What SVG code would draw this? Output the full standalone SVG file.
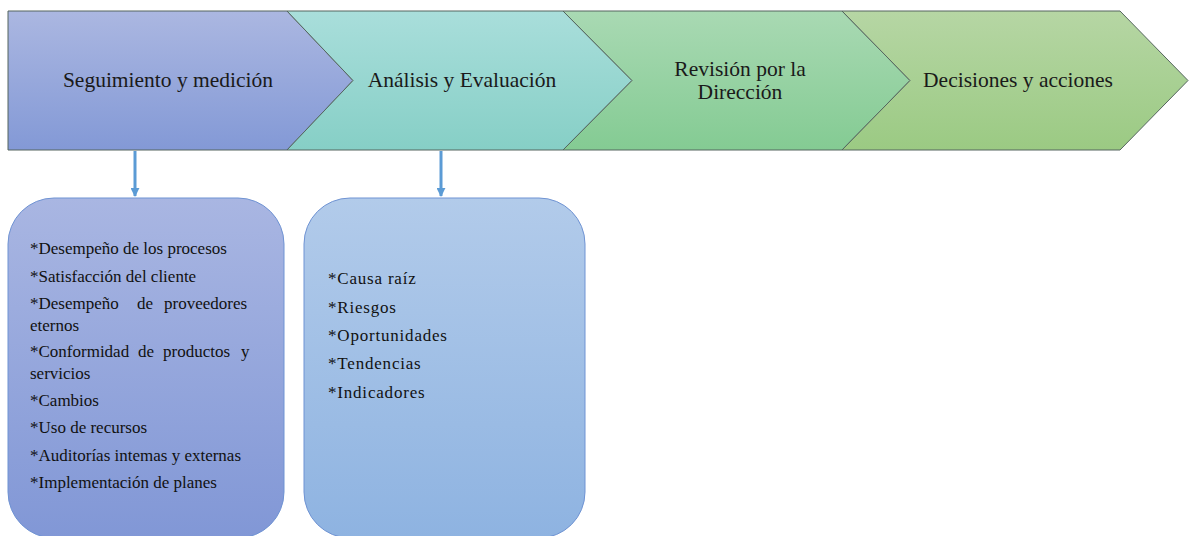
<svg xmlns="http://www.w3.org/2000/svg" width="1189" height="536" viewBox="0 0 1189 536">
  <defs>
    <linearGradient id="g1" x1="0" y1="0" x2="0" y2="1">
      <stop offset="0" stop-color="#abb7e1"/>
      <stop offset="1" stop-color="#8399d6"/>
    </linearGradient>
    <linearGradient id="g2" x1="0" y1="0" x2="0" y2="1">
      <stop offset="0" stop-color="#a9dedb"/>
      <stop offset="1" stop-color="#86cfc6"/>
    </linearGradient>
    <linearGradient id="g3" x1="0" y1="0" x2="0" y2="1">
      <stop offset="0" stop-color="#a9d9b3"/>
      <stop offset="1" stop-color="#84cb93"/>
    </linearGradient>
    <linearGradient id="g4" x1="0" y1="0" x2="0" y2="1">
      <stop offset="0" stop-color="#b6d6a4"/>
      <stop offset="1" stop-color="#9bca83"/>
    </linearGradient>
    <linearGradient id="gb1" x1="0" y1="0" x2="0" y2="1">
      <stop offset="0" stop-color="#a9b6e2"/>
      <stop offset="1" stop-color="#8197d6"/>
    </linearGradient>
    <linearGradient id="gb2" x1="0" y1="0" x2="0" y2="1">
      <stop offset="0" stop-color="#b2cbea"/>
      <stop offset="1" stop-color="#8eb3e1"/>
    </linearGradient>
    <marker id="arrow" viewBox="0 0 10 10" refX="9" refY="5" markerWidth="3" markerHeight="3" orient="auto">
      <path d="M0,0 L10,5 L0,10 z" fill="#5b9bd5"/>
    </marker>
  </defs>
  <style>
    .step { stroke: #55655f; stroke-width: 1; }
    .title { font-family: "Liberation Serif", "Times New Roman", serif; font-size: 21.5px; fill: #1a1a1a; text-anchor: middle; }
    .item { font-family: "Liberation Serif", "Times New Roman", serif; font-size: 17px; fill: #111; }
    .spaced { letter-spacing: 0.8px; }
    .box { stroke: #6f93d3; stroke-width: 1; }
    .conn { stroke: #5b9bd5; stroke-width: 3; fill: none; }
  </style>

  <!-- process chevrons -->
  <g id="step-seguimiento">
    <path class="step" d="M8,11 L287,11 L353,80.5 L287,150 L8,150 Z" fill="url(#g1)"/>
    <text class="title" x="168" y="87">Seguimiento y medición</text>
  </g>
  <g id="step-analisis">
    <path class="step" d="M287,11 L563,11 L632,80.5 L563,150 L287,150 L353,80.5 Z" fill="url(#g2)"/>
    <text class="title" x="462" y="87">Análisis y Evaluación</text>
  </g>
  <g id="step-revision">
    <path class="step" d="M563,11 L842,11 L910,80.5 L842,150 L563,150 L632,80.5 Z" fill="url(#g3)"/>
    <text class="title" x="740" y="76">Revisión por la</text>
    <text class="title" x="740" y="99">Dirección</text>
  </g>
  <g id="step-decisiones">
    <path class="step" d="M842,11 L1120,11 L1188,80.5 L1120,150 L842,150 L910,80.5 Z" fill="url(#g4)"/>
    <text class="title" x="1018" y="87">Decisiones y acciones</text>
  </g>

  <!-- connectors -->
  <g id="connectors">
    <line class="conn" x1="135" y1="151" x2="135" y2="196" marker-end="url(#arrow)"/>
    <line class="conn" x1="441" y1="151" x2="441" y2="196" marker-end="url(#arrow)"/>
  </g>

  <!-- detail boxes -->
  <g id="box-seguimiento">
    <rect class="box" x="8" y="198" width="276" height="340" rx="46" ry="46" fill="url(#gb1)"/>
    <text class="item" x="30" y="254">*Desempeño de los procesos</text>
    <text class="item" x="30" y="282">*Satisfacción del cliente</text>
    <text class="item" x="30" y="309">*Desempeño<tspan x="137">de</tspan><tspan x="164">proveedores</tspan></text>
    <text class="item" x="30" y="331">eternos</text>
    <text class="item" x="30" y="357">*Conformidad<tspan x="138">de</tspan><tspan x="163">productos</tspan><tspan x="241">y</tspan></text>
    <text class="item" x="30" y="379">servicios</text>
    <text class="item" x="30" y="406">*Cambios</text>
    <text class="item" x="30" y="433">*Uso de recursos</text>
    <text class="item" x="30" y="461">*Auditorías intemas y externas</text>
    <text class="item" x="30" y="488">*Implementación de planes</text>
  </g>
  <g id="box-analisis">
    <rect class="box" x="304" y="198" width="281" height="340" rx="46" ry="46" fill="url(#gb2)"/>
    <text class="item spaced" x="328" y="284">*Causa raíz</text>
    <text class="item spaced" x="328" y="313">*Riesgos</text>
    <text class="item spaced" x="328" y="341">*Oportunidades</text>
    <text class="item spaced" x="328" y="369">*Tendencias</text>
    <text class="item spaced" x="328" y="398">*Indicadores</text>
  </g>
</svg>
